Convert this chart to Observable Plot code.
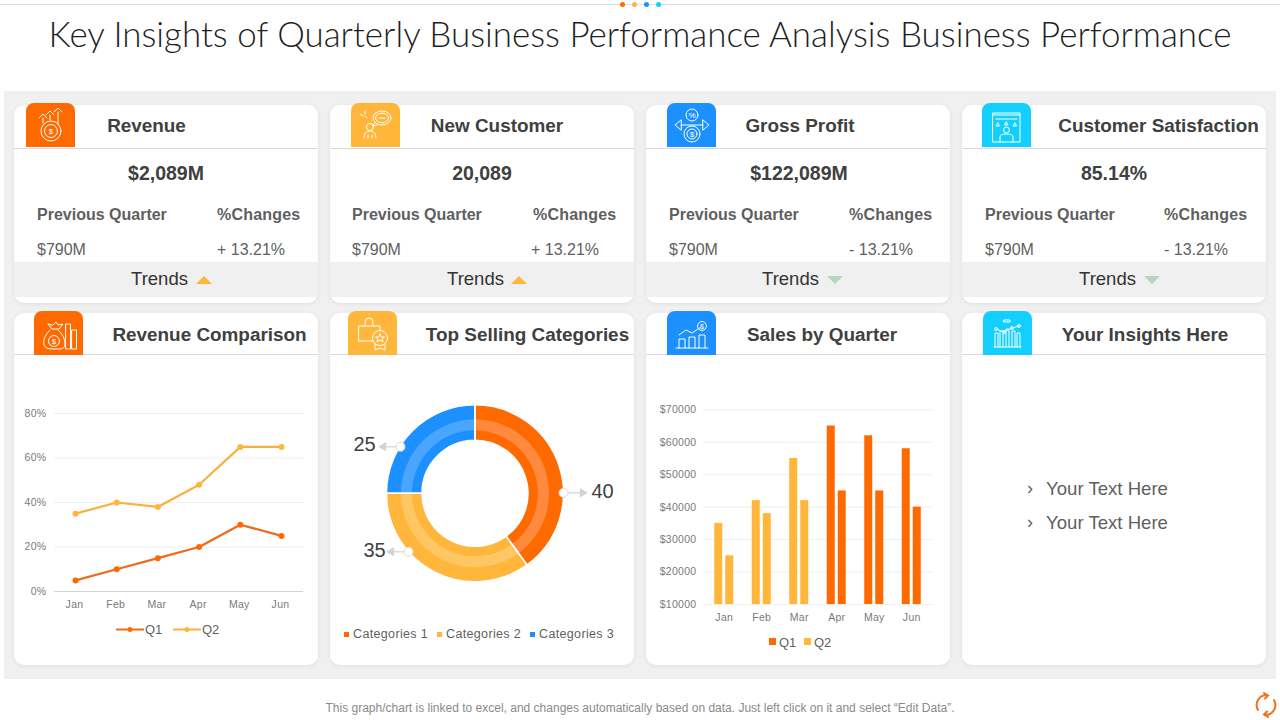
<!DOCTYPE html>
<html>
<head>
<meta charset="utf-8">
<script src="https://cdn.jsdelivr.net/npm/d3@7"></script>
<script src="https://cdn.jsdelivr.net/npm/@observablehq/plot@0.6"></script>
<style>
html,body{margin:0;padding:0;background:#fff;width:1280px;height:720px;overflow:hidden;font-family:"Liberation Sans",Arial,sans-serif}
#page{position:relative;width:1280px;height:720px;overflow:hidden}
.a{position:absolute;white-space:nowrap}
.c{transform:translate(-50%,-50%)}
.m{transform:translateY(-50%)}
.card{position:absolute;background:#fff;border-radius:10px;box-shadow:0 1px 4px rgba(0,0,0,.07);width:304px}
.plot{position:absolute}
.plot svg{display:block;overflow:visible;background:transparent}
</style>
</head>
<body>
<div id="page"></div>
<script>
// ---- data ----
const pageTitle = "Key Insights of Quarterly Business Performance Analysis Business Performance";
const footnote = "This graph/chart is linked to excel, and changes automatically based on data. Just left click on it and select \u201cEdit Data\u201d.";
const kpiNames = ["Revenue", "New Customer", "Gross Profit", "Customer Satisfaction"];
const kpiValues = ["$2,089M", "20,089", "$122,089M", "85.14%"];
const kpiPrevious = ["$790M", "$790M", "$790M", "$790M"];
const kpiChanges = ["+ 13.21%", "+ 13.21%", "- 13.21%", "- 13.21%"];
const kpiTrendUp = [true, true, false, false];
const chartTitles = ["Revenue Comparison", "Top Selling Categories", "Sales by Quarter", "Your Insights Here"];
const insightLines = ["Your Text Here", "Your Text Here"];

const months = ["Jan", "Feb", "Mar", "Apr", "May", "Jun"];
const revenueQ1 = [5, 10, 15, 20, 30, 25];
const revenueQ2 = [35, 40, 38, 48, 65, 65];
const revenueTicks = [0, 20, 40, 60, 80];

const categories = ["Categories 1", "Categories 2", "Categories 3"];
const categoryValues = [40, 35, 25];

const salesQ1 = [35000, 42000, 55000, 65000, 62000, 58000];
const salesQ2 = [25000, 38000, 42000, 45000, 45000, 40000];
const salesTicks = [10000, 20000, 30000, 40000, 50000, 60000, 70000];

// ---- style ----
const ORANGE = "#FF6A00", AMBER = "#FFB63A", BLUE = "#1C90FF", CYAN = "#12CFFF";
const LINE_ORANGE = "#EC6C1E", LINE_AMBER = "#F6B142";
const DARK = "#404040", MID = "#5f5f5f", AXIS = "#7a7a7a";
const page = document.getElementById("page");
const el = (cls, css, html) => {
  const d = document.createElement("div");
  d.className = cls; d.style.cssText = css; if (html !== undefined) d.innerHTML = html;
  page.appendChild(d); return d;
};
const text = (x, y, s, css, center = true) =>
  el("a " + (center ? "c" : "m"), `left:${x}px;top:${y}px;${css}`, s);

// top rule + dots
el("a", "left:0;top:4px;width:1280px;height:1px;background:#dcdcdc");
[[622, ORANGE], [634, AMBER], [646, BLUE], [658, CYAN]].forEach(([x, c]) =>
  el("a", `left:${x - 2.5}px;top:1.5px;width:5px;height:5px;border-radius:50%;background:${c}`));

text(640, 33, pageTitle, `font-family:Lato;font-weight:300;font-size:34.950px;color:#1f1f1f`);
el("a", "left:4px;top:91px;width:1272px;height:588px;background:#f0f0f0");

// ---- icons (decoration) ----
const ico = (b) => `<svg width="49" height="44" viewBox="0 0 49 44" fill="none" stroke="#fff" stroke-width="1" stroke-linejoin="round" stroke-linecap="round" style="position:absolute;left:0;top:0">${b}</svg>`;
const icons = [
  ico(`<circle cx="25" cy="28" r="10"/><circle cx="25" cy="28" r="6.5"/><path d="M17 20V15M13 15l4-4 4 4M24 17V12M20 12l4-4 4 4M32 21V9M28 9l4-4 4 4"/><text x="25" y="31" font-size="8" fill="#fff" stroke="none" text-anchor="middle">$</text>`),
  ico(`<ellipse cx="31" cy="15" rx="9" ry="7"/><ellipse cx="31" cy="15" rx="6.500" ry="4.800"/><path d="M24 20l-3 3 5-1M28 15h6"/><path d="M9 11l3 2M14 8v3M16 15l-2-2"/><circle cx="19" cy="24" r="3.500"/><path d="M13 35q0-7 6-7t6 7M17 35v-3M21 35v-3"/>`),
  ico(`<circle cx="25" cy="12" r="6"/><circle cx="25" cy="31" r="8"/><circle cx="25" cy="31" r="5"/><path d="M14 22h22M14 17l-6 5 6 5zM36 17l6 5-6 5z"/><text x="25" y="15" font-size="8" fill="#fff" stroke="none" text-anchor="middle">%</text><text x="25" y="34" font-size="8" fill="#fff" stroke="none" text-anchor="middle">$</text>`),
  ico(`<rect x="11" y="10" width="27" height="29"/><path d="M11 12h27M14 16h21"/><path d="M16 20l1.5 3h-3zM24.5 19l1.5 3h-3zM33 20l1.5 3h-3z"/><circle cx="24.5" cy="27" r="3"/><path d="M18 39v-5q0-3 6.500-3t6.500 3v5"/>`),
  ico(`<path d="M14 13l4 5h7l4-5-5 1-2-3-3 3z"/><path d="M16 19q-8 8-6 15 1 4 9 4h6q6 0 6-5 0-8-7-14"/><circle cx="20" cy="30" r="5.500"/><rect x="32" y="13" width="4.500" height="25"/><rect x="38" y="19" width="4.500" height="19"/><text x="20" y="33" font-size="8" fill="#fff" stroke="none" text-anchor="middle">$</text>`),
  ico(`<path d="M11 15h21v15H11zM17 15v-4q0-4 4-4t4 4v4"/><circle cx="32" cy="27" r="7.500" fill="${AMBER}"/><path d="M27 33v6l5-2 5 2v-6M32 23l1.500 3h3l-2.500 2 1 3-3-2-3 2 1-3-2.500-2h3z"/>`),
  ico(`<circle cx="35" cy="15" r="4.500"/><path d="M9 37h32M12 37V28h6v9M22 37V26h6v11M32 37V24h6v13M12 24l7-5 6 3 9-6"/><text x="35" y="18" font-size="7" fill="#fff" stroke="none" text-anchor="middle">$</text>`),
  ico(`<path d="M11 36h27M12 36V22h3v14M17 36V20h3v16M23 36V18h3v18M29 36V20h3v16M34 36V22h3v14M13 18l8 3 8-4 7-2"/><circle cx="13" cy="18" r="1.500"/><circle cx="21" cy="21" r="1.500"/><circle cx="29" cy="17" r="1.500"/><circle cx="36" cy="15" r="1.500"/><rect x="21" y="9" width="6" height="2"/>`)
];

// ---- KPI cards ----
const cardX = [14, 330, 646, 962];
const iconX1 = [26, 351, 667, 982], iconX2 = [34, 348, 667, 983];
const headX1 = [146.500, 497, 800, 1158.500], headX2 = [209.500, 527.500, 822, 1145];
const valX = [166, 482, 799, 1114];
const prevX = [37, 352, 669, 985], chgX = [217, 533, 849, 1164], chgValX = [217, 531, 849, 1164];
const trendX = [159.500, 475.500, 790.500, 1107.500], triX = [204, 519, 835, 1152];
const iconColors = [ORANGE, AMBER, BLUE, CYAN];
const head = `font-weight:700;font-size:18.900px;color:${DARK}`;
const iconBox = (x, y, c, svg) => el("a", `left:${x}px;top:${y}px;width:49px;height:44px;background:${c};border-radius:8px 8px 0 0`, svg);

kpiNames.forEach((name, i) => {
  el("card", `left:${cardX[i]}px;top:105px;height:198px`);
  el("a", `left:${cardX[i]}px;top:147.500px;width:304px;height:1px;background:#d9d9d9`);
  el("a", `left:${cardX[i]}px;top:262px;width:304px;height:35px;background:#f0f0f0`);
  iconBox(iconX1[i], 103, iconColors[i], icons[i]);
  text(headX1[i], 125.500, name, head);
  text(valX[i], 173, kpiValues[i], `font-weight:700;font-size:19.500px;color:${DARK}`);
  text(prevX[i], 215, "Previous Quarter", `font-weight:700;font-size:16px;color:${MID}`, false);
  text(chgX[i], 215, "%Changes", `font-weight:700;font-size:16px;letter-spacing:.2px;color:${MID}`, false);
  text(prevX[i], 250, kpiPrevious[i], `font-size:16px;color:${MID}`, false);
  text(chgValX[i], 250, kpiChanges[i], `font-size:16px;color:${MID}`, false);
  text(trendX[i], 279, "Trends", `font-size:18.500px;color:#333`);
  el("a", `left:${triX[i] - 8}px;top:276px;width:0;height:0;border-left:8px solid transparent;border-right:8px solid transparent;` +
    (kpiTrendUp[i] ? `border-bottom:8px solid ${AMBER}` : `border-top:8px solid #B5D6BE`));
});

// ---- chart cards ----
chartTitles.forEach((t, i) => {
  el("card", `left:${cardX[i]}px;top:313px;height:352px`);
  el("a", `left:${cardX[i]}px;top:354px;width:304px;height:1px;background:#d9d9d9`);
  iconBox(iconX2[i], 311, iconColors[i], icons[4 + i]);
  text(headX2[i], 334.500, t, head);
});

const axisStyle = {fontFamily: "'Liberation Sans',Arial,sans-serif", fontSize: "10.500px", background: "transparent"};
const mount = (x, y, svg) => { const d = el("plot", `left:${x}px;top:${y}px`); d.appendChild(svg); };

// ---- Revenue comparison (line) ----
const revenueRows = months.flatMap((m, i) => [
  {month: m, series: "Q1", value: revenueQ1[i]},
  {month: m, series: "Q2", value: revenueQ2[i]}
]);
const seriesStroke = d => d.series === "Q1" ? LINE_ORANGE : LINE_AMBER;
const seriesDot = d => d.series === "Q1" ? ORANGE : AMBER;
mount(14, 355, Plot.plot({
  width: 304, height: 310,
  marginLeft: 40, marginRight: 15, marginTop: 58, marginBottom: 74,
  style: {...axisStyle, letterSpacing: "0.3px"},
  x: {type: "point", domain: months, range: [61, 267], padding: 0, round: false, label: null},
  y: {domain: [0, 80], label: null},
  marks: [
    Plot.ruleY(revenueTicks.filter(d => d > 0), {stroke: "#efefef"}),
    Plot.ruleY([0], {stroke: "#d4d4d8"}),
    Plot.axisY({ticks: revenueTicks, tickSize: 0, tickPadding: 8, tickFormat: d => d + "%", color: AXIS, anchor: "left", label: null}),
    Plot.axisX({tickSize: 0, tickPadding: 9, dx: -1, color: AXIS, anchor: "bottom", label: null}),
    Plot.line(revenueRows, {x: "month", y: "value", z: "series", stroke: seriesStroke, strokeWidth: 2.200}),
    Plot.dot(revenueRows, {x: "month", y: "value", fill: seriesDot, r: 3})
  ]
}));
const legendText = `font-size:13px;color:${MID}`;
el("a", `left:116px;top:622px;width:110px;height:14px`, `<svg width="90" height="14" style="position:absolute;left:0;top:0"><path d="M0 7.500H28" stroke="${LINE_ORANGE}" stroke-width="2"/><circle cx="14" cy="7.500" r="2.500" fill="${ORANGE}"/><path d="M57 7.500H85" stroke="${LINE_AMBER}" stroke-width="2"/><circle cx="71" cy="7.500" r="2.500" fill="${AMBER}"/></svg>`);
text(145, 629, "Q1", legendText, false);
text(202, 629, "Q2", legendText, false);

// ---- Top selling categories (donut) ----
const donutColors = [ORANGE, AMBER, BLUE], donutLight = ["#FF8A3D", "#FFC763", "#4AA5FF"];
const pieArcs = d3.pie().sort(null)(categoryValues);
const donutMark = (index, scales) => {
  const g = d3.create("svg:g").attr("transform", `translate(${scales.x(0)},${scales.y(0)})`);
  const band = (r0, r1, colors) => g.append("g").selectAll("path").data(pieArcs).join("path")
    .attr("d", d3.arc().innerRadius(r0).outerRadius(r1))
    .attr("fill", d => colors[d.index]);
  band(53, 88.500, donutColors);
  band(63, 74, donutLight);
  g.append("g").selectAll("path").data(pieArcs).join("path")
    .attr("d", d3.arc().innerRadius(53).outerRadius(88.500))
    .attr("fill", "none").attr("stroke", "#fff").attr("stroke-width", 1.500);
  return g.node();
};
const leaderLayout = [
  {dot: [88, -1], tip: [107, -1], rotate: 90, label: [127, -2.500]},
  {dot: [-67, 58], tip: [-84, 58], rotate: -90, label: [-101, 56.500]},
  {dot: [-75, -47], tip: [-92, -47], rotate: -90, label: [-111, -49.500]}
];
const leaders = categoryValues.map((v, i) => ({v, ...leaderLayout[i]}));
mount(330, 355, Plot.plot({
  width: 304, height: 310, margin: 0,
  style: axisStyle,
  x: {domain: [-145, 159], range: [0, 304], axis: null},
  y: {domain: [-138.300, 171.700], range: [0, 310], axis: null},
  marks: [
    donutMark,
    Plot.link(leaders, {x1: d => d.dot[0], y1: d => d.dot[1], x2: d => d.tip[0], y2: d => d.tip[1], stroke: "#d4d4d4", strokeWidth: 1.200}),
    Plot.dot(leaders, {x: d => d.tip[0], y: d => d.tip[1], symbol: "triangle", rotate: "rotate", r: 3.500, fill: "#d4d4d4"}),
    Plot.dot(leaders, {x: d => d.dot[0], y: d => d.dot[1], r: 4.500, fill: "#fff", stroke: "#d9d9d9", strokeWidth: 1}),
    Plot.text(leaders, {x: d => d.label[0], y: d => d.label[1], text: d => String(d.v), fontSize: 20, fill: DARK})
  ]
}));
const catX = [344, 437, 530];
categories.forEach((c, i) => {
  el("a", `left:${catX[i]}px;top:631.500px;width:5px;height:5px;background:${donutColors[i]}`);
  text(catX[i] + 9, 633.500, c, `font-size:12.500px;letter-spacing:.35px;color:${MID}`, false);
});

// ---- Sales by quarter (bars) ----
const salesRows = months.map((m, i) => ({month: m, q1: salesQ1[i], q2: salesQ2[i], early: i < 3}));
const barFill = d => d.early ? AMBER : ORANGE;
const barInset = 14.750;
mount(646, 355, Plot.plot({
  width: 304, height: 310,
  marginLeft: 57, marginRight: 18, marginTop: 54.300, marginBottom: 61,
  style: {...axisStyle, letterSpacing: "0.3px"},
  x: {type: "band", domain: months, range: [59, 284], padding: 0, round: false, label: null},
  y: {domain: [10000, 70000], label: null},
  marks: [
    Plot.ruleY(salesTicks, {stroke: "#efefef"}),
    Plot.axisY({ticks: salesTicks, tickSize: 0, tickPadding: 7, tickFormat: d => "$" + d, color: AXIS, anchor: "left", label: null}),
    Plot.axisX({tickSize: 0, tickPadding: 9, color: AXIS, anchor: "bottom", label: null}),
    Plot.barY(salesRows, {x: "month", y1: () => 10000, y2: "q1", fill: barFill, dx: -5.500, insetLeft: barInset, insetRight: barInset}),
    Plot.barY(salesRows, {x: "month", y1: () => 10000, y2: "q2", fill: barFill, dx: 5.500, insetLeft: barInset, insetRight: barInset})
  ]
}));
el("a", `left:769px;top:638px;width:7px;height:7px;background:${ORANGE}`);
text(779, 642, "Q1", legendText, false);
el("a", `left:804px;top:638px;width:7px;height:7px;background:${AMBER}`);
text(814, 642, "Q2", legendText, false);

// ---- Insights ----
insightLines.forEach((t, i) => {
  const y = 489 + i * 34;
  text(1027, y - 1, "\u203a", `font-size:18px;color:${MID}`, false);
  text(1046, y, t, `font-size:18.600px;color:${MID}`, false);
});

// footer
text(640, 708, footnote, `font-size:12px;color:#8a8a8a`);
el("a", "left:1254px;top:692px;width:24px;height:26px", `<svg width="24" height="26" viewBox="0 0 24 26" fill="none" stroke="#F07020" stroke-width="2" stroke-linecap="round"><path d="M4 18A10 10 0 0 1 12 3"/><path d="M10 1l4 2.500-3 3"/><path d="M20 8A10 10 0 0 1 12 23"/><path d="M14 25l-4-2.500 3-3"/></svg>`);
</script>
</body>
</html>
